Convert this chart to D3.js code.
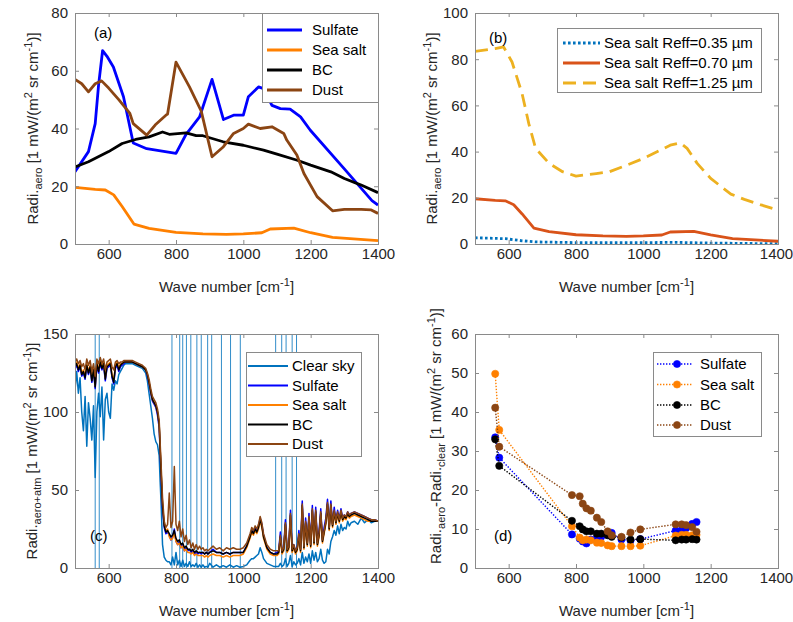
<!DOCTYPE html>
<html><head><meta charset="utf-8">
<script src="https://cdn.jsdelivr.net/npm/d3@7"></script>
<style>
body{margin:0;background:#fff}
svg{display:block}
text{font-family:"Liberation Sans",Arial,Helvetica,sans-serif;white-space:pre}
</style>
</head><body>
<svg id="chart" width="793" height="622"></svg>
<script>
// ---------------- DATA ----------------
// Panel (a): aerosol radiance (x = wave number, y = radiance)
const wnSulfateA = [500,540,560,570,582,595,614,644,673,713,800,830,870,907,941,971,1000,1015,1045,1060,1085,1110,1139,1170,1199,1300,1382,1400];
const sulfateA   = [25,32,41.7,55,67,65,61.3,51,35,33,31.4,38,44,57,43.1,44.6,44.6,51,54.4,53.8,48,46.9,46.7,44,39.4,26,15,13.5];
const wnSeaSaltA = [500,560,590,615,640,675,720,800,880,950,1000,1055,1080,1150,1200,1265,1400];
const seaSaltA   = [19.6,18.9,18.7,17,13,6.9,5.4,4,3.5,3.3,3.5,3.9,5.2,5.5,3.9,2.3,1.2];
const wnBCA      = [500,540,600,640,680,720,760,780,830,860,880,940,1000,1060,1100,1160,1200,1260,1300,1350,1400];
const bcA        = [26.7,28.5,32,34.8,36.2,37.1,38.8,38,38.5,37.5,37.5,35.4,34.2,32.5,31.1,29,27.3,25,22.7,20.4,17.8];
const wnDustA    = [500,520,540,560,579,600,630,663,673,713,738,770,775,800,840,875,907,941,971,1000,1015,1050,1085,1120,1129,1159,1180,1219,1265,1300,1350,1380,1400];
const dustA      = [57,55.5,52.7,55.5,56.5,54,50,45.2,41.7,37.7,41.2,44.6,45,63,54.4,46,30.2,33.7,38.3,40,41.5,40,40.6,38.3,36,30.8,24.4,16.4,11.5,12,12,11.8,10.6];
const legendA    = ["Sulfate","Sea salt","BC","Dust"];

// Panel (b): sea salt with different effective radius
const wnR035 = [500,590,640,680,800,1000,1100,1200,1400];
const seaR035 = [2.7,2.3,1.4,0.9,0.6,0.6,0.7,0.4,0.1];
const wnR070 = [500,560,590,615,640,675,720,800,880,950,1000,1055,1080,1150,1200,1265,1400];
const seaR070 = [19.6,18.9,18.7,17,13,6.9,5.4,4,3.5,3.3,3.5,3.9,5.2,5.5,3.9,2.3,1.2];
const wnR125 = [500,560,585,610,640,660,680,720,760,800,860,900,950,1000,1050,1080,1110,1130,1160,1200,1260,1300,1350,1400];
const seaR125 = [83.4,84.6,85.3,78.8,65,52,41.4,34.9,31.3,29.4,30.5,31.3,34.1,37,40.6,42.8,43.8,41.4,34.9,28.4,21.6,19.3,16.9,14.7];
const legendB = ["Sea salt Reff=0.35 \u00b5m","Sea salt Reff=0.70 \u00b5m","Sea salt Reff=1.25 \u00b5m"];

// Panel (c): spectra
const wnC = [
 500,505,510,515,520,525,530,535,540,545,550,555,560,565,570,575,580,585,590,595,600,605,610,615,620,625,630,635,640,645,650,
 660,670,680,690,700,710,715,720,725,730,735,740,745,750,753,756,760,765,770,775,
 780,785,790,795,800,805,810,815,820,825,830,835,840,845,850,855,860,865,870,875,880,885,890,895,900,
 910,920,930,940,950,960,970,980,990,1000,
 1010,1020,1025,1030,1035,1040,1045,1050,1055,1060,1070,1080,1090,1100,
 1105,1110,1115,1120,1125,1130,1135,1140,1145,1150,1155,1160,1165,1170,1175,1180,1185,1190,1195,1200,1205,1210,1215,1220,1225,1230,1235,1240,1245,1250,1255,1260,1265,1270,1275,1280,1285,1290,1295,1300,1305,1310,1315,1320,
 1330,1340,1350,1360,1370,1380,1390,1400];
const clearC = [
 114,126,112,122,100,88,110,78,106,96,82,104,58,100,112,97,116,82,108,112,100,96,118,114,120,118,124,126,128,130,131,
 131,131,130,129,128,125,120,112,104,96,86,81,79,72,55,40,15,7,5,4,
 4,2,7,2,10,2,5,1,5,1,3,1,4,1,2,1,3,0.5,2,0.5,2,0.5,1,0.5,3,
 0.5,2,0.5,1.5,0.5,2,0.5,1.5,0.5,1,
 2,5,6,6,7,8,9,13,10,6,3,2,1,1,
 1,3,1,2,6,1,3,8,1,4,2,3,6,2,10,3,7,4,9,3,11,5,10,4,6,12,5,3,4,12,9,17,20,24,21,27,22,28,24,26,25,30,27,29,
 30,28,32,29,31,29,30,30];
const sulfateC = [
 128,130,126,129,123,125,121,129,124,128,119,126,115,130,125,131,127,130,120,128,129,130,122,118,128,130,126,129,130,131,132,
 132,132,131,130,129,127,123,118,112,107,105,103,98,90,74,58,38,26,22,23,
 21,18,20,25,17,15,17,13,15,11,13,11,12,10,11,9,10,9,10,9,10,9,10,9,10,
 12,10,10,9,10,9,10,10,10,10,
 14,21,24,23,26,24,27,32,28,21,13,10,9,10,
 11,23,11,13,31,12,14,37,12,15,11,13,24,12,43,14,32,16,35,15,40,17,39,16,24,38,18,26,32,44,26,43,28,39,30,37,31,38,32,34,33,36,34,35,
 36,35,34,33,32,31,31,30];
const seaSaltC = [
 130,132,128,131,125,127,123,131,126,130,121,128,117,132,127,133,129,132,122,130,131,132,124,120,130,132,128,131,131,132,132,
 132,132,131,130,129,127,124,119,113,108,106,104,100,92,77,61,41,28,24,25,
 20,18,19,22,17,15,16,13,14,11,12,10,10,9,10,8,9,8,8,8,8,7,8,7,8,
 9,8,8,7,8,7,8,8,8,9,
 13,19,23,21,24,22,25,30,26,19,12,9,8,8,
 9,19,9,11,27,10,12,33,10,13,9,11,20,10,39,12,28,14,31,13,36,15,35,14,20,34,16,22,28,40,24,39,26,35,28,34,29,35,30,32,31,34,32,33,
 34,33,32,31,30,30,30,30];
const bcC = [
 129,131,127,130,124,126,122,130,125,129,120,127,116,131,126,132,128,131,121,129,130,131,123,119,129,131,127,130,131,132,132,
 132,132,131,130,129,127,124,119,113,108,106,104,100,92,76,60,40,27,23,24,
 22,20,21,24,19,17,18,15,16,13,14,12,12,11,12,10,11,10,10,10,10,9,10,9,10,
 11,10,10,9,10,9,10,10,10,10,
 14,20,24,22,25,23,26,31,27,20,13,10,9,9,
 10,20,10,12,28,11,13,34,11,14,10,12,21,11,40,13,29,15,32,14,37,16,36,15,21,35,17,23,29,41,25,40,27,36,29,35,30,36,31,33,32,35,33,34,
 35,34,33,32,31,30,30,30];
const dustC = [
 132,134,131,133,129,131,127,134,130,133,126,131,123,134,131,135,131,134,127,132,133,134,129,127,132,133,131,132,132,133,133,
 133,133,132,131,130,128,125,121,115,110,108,106,102,95,80,65,45,30,26,28,
 48,26,30,65,28,24,30,20,25,17,21,15,18,13,16,12,15,12,14,12,13,11,12,11,12,
 14,12,13,11,13,12,13,12,12,13,
 16,22,26,24,27,25,28,33,29,22,15,12,11,11,
 11,21,11,13,29,12,14,35,12,15,11,13,22,12,41,14,30,16,33,15,38,17,37,16,22,36,18,24,30,42,26,41,28,37,30,36,31,37,32,34,33,36,34,35,
 36,35,34,33,32,31,31,30];
const legendC = ["Clear sky","Sulfate","Sea salt","BC","Dust"];

// Panel (d): selected channels and radiance differences
const channels = [560,572,788,811,820,831,844,862,875,894,906,935,962,991,1096,1114,1127,1145,1158];
const dSulfate = [33.5,28.3,8.6,7.5,6.8,6.3,7.3,7.8,8.0,8.5,9.0,7.3,7.0,7.4,9.6,9.8,10.2,11.3,11.8];
const dSeaSalt = [49.8,35.4,10.7,7.8,7.1,7.3,7.1,6.5,6.4,5.8,5.6,5.6,5.6,5.7,8.3,8.5,8.5,8.4,8.5];
const dBC      = [33.0,26.2,12.1,10.7,9.9,9.4,9.4,8.8,8.8,8.4,8.0,7.8,7.3,7.4,7.1,7.3,7.3,7.4,7.3];
const dDust    = [41.1,31.1,18.7,18.4,16.5,15.3,14.7,12.9,11.8,9.4,8.4,8.0,9.1,9.9,11.2,11.2,11.0,10.5,9.3];
const legendD  = ["Sulfate","Sea salt","BC","Dust"];

// Axis ticks
const xTicks  = [600,800,1000,1200,1400];
const yTicksA = [0,20,40,60,80];
const yTicksB = [0,20,40,60,80,100];
const yTicksC = [0,50,100,150];
const yTicksD = [0,10,20,30,40,50,60];

// ---------------- DRAWING ----------------
const svg = d3.select("#chart");
const FS = 15, FSS = 11;
const AX = "#8a8a8a";
const TXT = "#262626";
const C = {sulfate:"#0000ff", seasalt:"#ff8000", bc:"#000000", dust:"#8b4513",
           clear:"#0072bd", r035:"#0072bd", r070:"#d95319", r125:"#edb120"};
const fmt = d3.format("d");

function panel(box, xDom, yDom, xT, yT, id) {
  const x = d3.scaleLinear().domain(xDom).range([box.x0, box.x1]);
  const y = d3.scaleLinear().domain(yDom).range([box.y1, box.y0]);
  const g = svg.append("g");
  svg.append("clipPath").attr("id", id).append("rect")
    .attr("x", box.x0).attr("y", box.y0).attr("width", box.x1 - box.x0).attr("height", box.y1 - box.y0);
  const plot = g.append("g").attr("clip-path", `url(#${id})`);
  return {x, y, g, plot, box, xT, yT};
}

function axes(p) {
  const {x, y, g, box} = p;
  const a = g.append("g").attr("font-size", FS);
  const bx = a.append("g").attr("transform", `translate(0,${box.y1})`)
    .call(d3.axisBottom(x).tickValues(p.xT).tickFormat(fmt).tickSize(-4).tickSizeOuter(0).tickPadding(4));
  a.append("g").attr("transform", `translate(0,${box.y0})`)
    .call(d3.axisTop(x).tickValues(p.xT).tickSize(-4).tickSizeOuter(0).tickFormat(""));
  a.append("g").attr("transform", `translate(${box.x0},0)`)
    .call(d3.axisLeft(y).tickValues(p.yT).tickFormat(fmt).tickSize(-4).tickSizeOuter(0).tickPadding(7));
  a.append("g").attr("transform", `translate(${box.x1},0)`)
    .call(d3.axisRight(y).tickValues(p.yT).tickSize(-4).tickSizeOuter(0).tickFormat(""));
  a.selectAll(".domain").remove();
  a.selectAll(".tick line").attr("stroke", AX);
  a.selectAll(".tick text").attr("fill", TXT).attr("font-size", FS);
  // keep the last label inside the page when the panel reaches the right edge
  if (box.x1 > 770) bx.selectAll(".tick text").filter(d => d === 1400).attr("dx", -2);
  g.append("rect").attr("x", box.x0 + 0.5).attr("y", box.y0 + 0.5)
    .attr("width", box.x1 - box.x0).attr("height", box.y1 - box.y0)
    .attr("fill", "none").attr("stroke", AX).attr("stroke-width", 1);
}

function series(p, xs, ys, o) {
  p.plot.append("path").datum(xs.map((v, i) => [v, ys[i]]))
    .attr("d", d3.line().x(d => p.x(d[0])).y(d => p.y(d[1])))
    .attr("fill", "none").attr("stroke", o.color).attr("stroke-width", o.w)
    .attr("stroke-dasharray", o.dash || null).attr("stroke-linejoin", "round");
  if (o.marker) {
    p.plot.append("g").selectAll("circle").data(xs.map((v, i) => [v, ys[i]])).join("circle")
      .attr("cx", d => p.x(d[0])).attr("cy", d => p.y(d[1])).attr("r", 3.6)
      .attr("fill", o.color).attr("stroke", o.color).attr("stroke-width", 0.6);
  }
}

function rich(sel, parts) {
  let cur = 0;
  parts.forEach(pt => {
    const off = pt.sub ? 3.5 : (pt.sup ? -6 : 0);
    sel.append("tspan").attr("dy", off - cur).attr("font-size", (pt.sub || pt.sup) ? FSS : FS).text(pt.t);
    cur = off;
  });
}

function xLabel(p) {
  const t = svg.append("text").attr("x", (p.box.x0 + p.box.x1) / 2).attr("y", p.box.y1 + 47.5)
    .attr("text-anchor", "middle").attr("fill", TXT).attr("font-size", FS);
  rich(t, [{t:"Wave number [cm"}, {t:"-1", sup:true}, {t:"]"}]);
}

function yLabel(xpos, ycen, parts) {
  const t = svg.append("text").attr("transform", `translate(${xpos},${ycen}) rotate(-90)`)
    .attr("text-anchor", "middle").attr("fill", TXT).attr("font-size", FS);
  rich(t, parts);
}

const unitParts = [{t:" [1 mW/(m"}, {t:"2", sup:true}, {t:" sr cm"}, {t:"-1", sup:true}, {t:")]"}];

function legend(L, items) {
  const g = svg.append("g");
  g.append("rect").attr("x", L.x + 0.5).attr("y", L.y + 0.5).attr("width", L.w).attr("height", L.h)
    .attr("fill", "#fff").attr("stroke", AX).attr("stroke-width", 1);
  items.forEach((it, i) => {
    const ry = L.rows[i];
    g.append("line").attr("x1", L.l0).attr("x2", L.l1).attr("y1", ry).attr("y2", ry)
      .attr("stroke", it.color).attr("stroke-width", it.w).attr("stroke-dasharray", it.dash || null);
    if (it.marker) g.append("circle").attr("cx", (L.l0 + L.l1) / 2 + 2).attr("cy", ry).attr("r", 3.6)
      .attr("fill", it.color).attr("stroke", it.color).attr("stroke-width", 0.6);
    g.append("text").attr("x", L.tx).attr("y", ry + 5.3).attr("font-size", FS).attr("fill", "#000").text(it.label);
  });
}

function tag(x, y, s) {
  svg.append("text").attr("x", x).attr("y", y).attr("font-size", FS).attr("fill", "#000").text(s);
}

// ---- Panel (a)
const pa = panel({x0:75, x1:378, y0:13, y1:244}, [500,1400], [0,80], xTicks, yTicksA, "clipA");
series(pa, wnSulfateA, sulfateA, {color:C.sulfate, w:2.8});
series(pa, wnSeaSaltA, seaSaltA, {color:C.seasalt, w:2.8});
series(pa, wnBCA, bcA, {color:C.bc, w:2.8});
series(pa, wnDustA, dustA, {color:C.dust, w:2.8});
axes(pa);
xLabel(pa);
yLabel(38, 128.5, [{t:"Radi."}, {t:"aero", sub:true}, ...unitParts]);
tag(94, 38, "(a)");
legend({x:262, y:13, w:116, h:89, rows:[30,50,70,90], l0:267, l1:302, tx:312},
  [C.sulfate, C.seasalt, C.bc, C.dust].map((c, i) => ({color:c, w:2.8, label:legendA[i]})));

// ---- Panel (b)
const pb = panel({x0:475, x1:778, y0:13, y1:244}, [500,1400], [0,100], xTicks, yTicksB, "clipB");
series(pb, wnR035, seaR035, {color:C.r035, w:2.8, dash:"2.6,2.4"});
series(pb, wnR070, seaR070, {color:C.r070, w:2.8});
series(pb, wnR125, seaR125, {color:C.r125, w:2.8, dash:"13,7"});
axes(pb);
xLabel(pb);
yLabel(437, 128.5, [{t:"Radi."}, {t:"aero", sub:true}, ...unitParts]);
tag(489, 43, "(b)");
legend({x:557, y:28, w:204, h:64, rows:[43,63,83], l0:563, l1:600, tx:604},
  [{color:C.r035, w:2.8, dash:"2.6,2.4"}, {color:C.r070, w:2.8}, {color:C.r125, w:2.8, dash:"13,7"}]
    .map((o, i) => Object.assign(o, {label:legendB[i]})));

// ---- Panel (c)
const pc = panel({x0:75, x1:378, y0:334, y1:568}, [500,1400], [0,150], xTicks, yTicksC, "clipC");
pc.plot.append("g").selectAll("line").data(channels).join("line")
  .attr("x1", d => pc.x(d)).attr("x2", d => pc.x(d)).attr("y1", pc.y(0)).attr("y2", pc.y(150))
  .attr("stroke", C.clear).attr("stroke-width", 1).attr("opacity", 0.8);
series(pc, wnC, clearC, {color:C.clear, w:1.5});
series(pc, wnC, sulfateC, {color:C.sulfate, w:1.5});
series(pc, wnC, seaSaltC, {color:C.seasalt, w:1.5});
series(pc, wnC, bcC, {color:C.bc, w:1.5});
series(pc, wnC, dustC, {color:C.dust, w:1.5});
axes(pc);
xLabel(pc);
yLabel(37, 451, [{t:"Radi."}, {t:"aero+atm", sub:true}, ...unitParts]);
tag(90, 541, "(c)");
legend({x:246, y:352, w:115, h:104, rows:[366,385.5,405,424.5,444], l0:248, l1:288, tx:292},
  [C.clear, C.sulfate, C.seasalt, C.bc, C.dust].map((c, i) => ({color:c, w:2, label:legendC[i]})));

// ---- Panel (d)
const pd = panel({x0:475, x1:778, y0:334, y1:568}, [500,1400], [0,60], xTicks, yTicksD, "clipD");
series(pd, channels, dSulfate, {color:C.sulfate, w:1.4, dash:"1.4,1.6", marker:true});
series(pd, channels, dSeaSalt, {color:C.seasalt, w:1.4, dash:"1.4,1.6", marker:true});
series(pd, channels, dBC, {color:C.bc, w:1.4, dash:"1.4,1.6", marker:true});
series(pd, channels, dDust, {color:C.dust, w:1.4, dash:"1.4,1.6", marker:true});
axes(pd);
xLabel(pd);
yLabel(441, 436, [{t:"Radi."}, {t:"aero", sub:true}, {t:"-Radi."}, {t:"clear", sub:true}, ...unitParts]);
tag(494, 541, "(d)");
legend({x:653, y:352, w:108, h:84, rows:[364,384.5,405,425], l0:657, l1:693, tx:700},
  [C.sulfate, C.seasalt, C.bc, C.dust].map((c, i) => ({color:c, w:1.4, dash:"1.4,1.6", marker:true, label:legendD[i]})));
</script>
</body></html>
